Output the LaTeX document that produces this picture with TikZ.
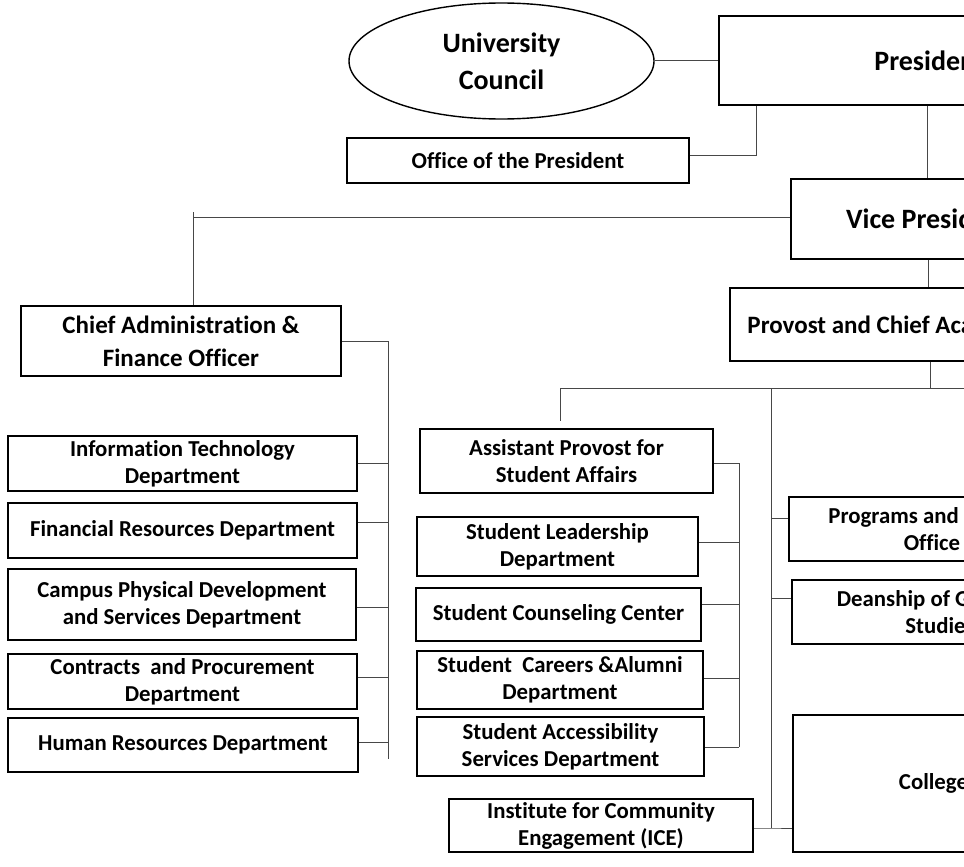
\documentclass[tikz,border=0pt]{standalone}
\usepackage{fontspec}
\setmainfont{Carlito}[Ligatures=NoCommon]
\usetikzlibrary{shapes.geometric}
\begin{document}
\begin{tikzpicture}[x=1pt,y=-1pt,
  box/.style={draw=black, fill=white, line width=1.8pt, align=center, inner sep=0pt,
    font=\bfseries\fontsize{22.8}{27}\selectfont, text=black},
  bigbox/.style={box, font=\bfseries\fontsize{28}{34}\selectfont},
  midbox/.style={box, font=\bfseries\fontsize{25}{33}\selectfont},
  oval/.style={ellipse, draw=black, fill=white, line width=1.4pt, align=center, inner sep=0pt,
    font=\bfseries\fontsize{28}{37}\selectfont},
  conn/.style={draw=black!72, line width=1pt}]
\useasboundingbox (0,0) rectangle (964,867);
\clip (0,0) rectangle (964,867);
\fill[white] (0,0) rectangle (964,867);

% ---- nodes ----
\node[oval, minimum width=305pt, minimum height=116pt] (uc) at (501.5,61) {University\\Council};
\node[bigbox, minimum width=421pt, minimum height=89pt] (pres) at (929.5,60.5) {President};
\node[box, minimum width=342pt, minimum height=45pt] (office) at (518,160.5) {Office of the President};
\node[bigbox, minimum width=276pt, minimum height=80pt] (vp) at (929,219) {Vice President};
\node[midbox, minimum width=400pt, minimum height=73pt] (prov) at (930,324.5) {Provost and Chief Academic Officer};

\node[midbox, minimum width=320pt, minimum height=70pt] (chief) at (181,341) {Chief Administration \&\\Finance Officer};
\node[box, minimum width=349pt, minimum height=55pt] (it) at (182.5,463.5) {Information Technology\\Department};
\node[box, minimum width=349pt, minimum height=55pt] (fin) at (182.5,530.5) {Financial Resources Department};
\node[box, minimum width=348pt, minimum height=71pt] (campus) at (182,604.5) {Campus Physical Development\\and Services Department};
\node[box, minimum width=349pt, minimum height=55pt] (contr) at (182.5,681.5) {Contracts\ \ and Procurement\\Department};
\node[box, minimum width=350pt, minimum height=54pt] (hrd) at (183,745) {Human Resources Department};

\node[box, minimum width=293pt, minimum height=64pt] (asst) at (566.5,461) {Assistant Provost for\\Student Affairs};
\node[box, minimum width=281pt, minimum height=59pt] (lead) at (557.5,546.5) {Student Leadership\\Department};
\node[box, minimum width=285pt, minimum height=53pt] (couns) at (558.5,614.5) {Student Counseling Center};
\node[box, minimum width=286pt, minimum height=58pt] (careers) at (560,680) {Student\ \ Careers \&Alumni\\Department};
\node[box, minimum width=287pt, minimum height=59pt] (access) at (560.5,746.5) {Student Accessibility\\Services Department};
\node[box, minimum width=304pt, minimum height=53pt] (ice) at (601,825.5) {Institute for Community\\Engagement (ICE)};

\node[box, minimum width=286pt, minimum height=64pt] (prog) at (932,529) {Programs and Centers\\Office};
\node[box, minimum width=296pt, minimum height=64pt] (dean) at (940,612) {Deanship of Graduate\\Studies};
\node[box, minimum width=290pt, minimum height=137pt] (coll) at (938,783.5) {Colleges};

% ---- junction coordinates ----
\coordinate (oc) at (756,155);
\coordinate (ch) at (193,217);
\coordinate (chtop) at (193,212);
\coordinate (pt) at (930,388);
\coordinate (hl) at (560,388);
\coordinate (hend) at (975,388);
\coordinate (ha) at (560,421);
\coordinate (mt) at (771,388);
\coordinate (mb) at (771,828);
\coordinate (st) at (739,463);
\coordinate (sb) at (739,747);
\coordinate (lt) at (388,341);
\coordinate (lb) at (388,759);

% ---- connectors ----
\draw[conn] (uc.east) -- (uc.east -| pres.west);
\draw[conn] (office.east |- oc) -- (oc) -- (oc |- pres.south);
\draw[conn] (pres.south -| 927,0) -- (vp.north -| 927,0);
\draw[conn] (vp.west |- ch) -- (ch);
\draw[conn] (chtop) -- (chtop |- chief.north);
\draw[conn] (vp.south -| 928,0) -- (prov.north -| 928,0);
\draw[conn] (prov.south -| pt) -- (pt);
\draw[conn] (hl) -- (hend);
\draw[conn] (hl) -- (ha);

\draw[conn] (mt) -- (mb);
\draw[conn] (prog.west |- 0,518) -- (mt |- 0,518);
\draw[conn] (dean.west |- 0,598) -- (mt |- 0,598);
\draw[conn] (ice.east |- mb) -- (mb) -- (coll.west |- mb);

\draw[conn] (asst.east |- st) -- (st) -- (sb);
\draw[conn] (lead.east |- 0,542) -- (st |- 0,542);
\draw[conn] (couns.east |- 0,604) -- (st |- 0,604);
\draw[conn] (careers.east |- 0,678) -- (st |- 0,678);
\draw[conn] (access.east |- sb) -- (sb);

\draw[conn] (chief.east) -- (lt) -- (lb);
\draw[conn] (it.east |- 0,463) -- (lt |- 0,463);
\draw[conn] (fin.east |- 0,522) -- (lt |- 0,522);
\draw[conn] (campus.east |- 0,607) -- (lt |- 0,607);
\draw[conn] (contr.east |- 0,677) -- (lt |- 0,677);
\draw[conn] (hrd.east |- 0,742) -- (lt |- 0,742);
\end{tikzpicture}
\end{document}
